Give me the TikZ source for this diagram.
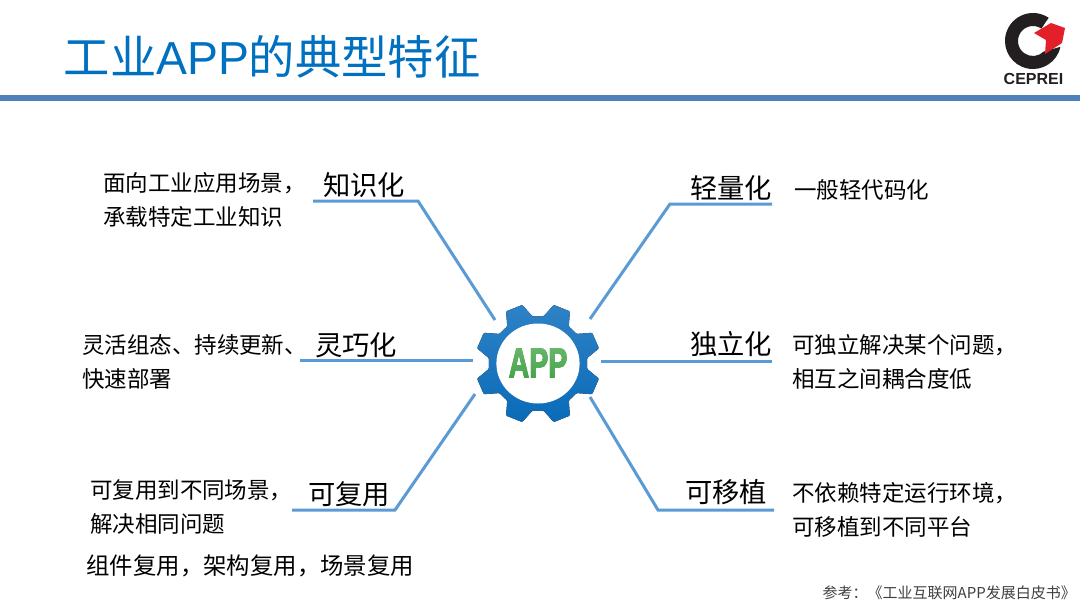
\documentclass[tikz,border=0pt]{standalone}
\usepackage{fontspec}
\setmainfont{Noto Sans CJK SC}
\newfontfamily\latinreg{Liberation Sans}
\newfontfamily\latinbold[Scale=1]{Liberation Sans}
\newfontfamily\appfont[FakeBold=2.2]{Liberation Sans Bold}
\usetikzlibrary{calc,fadings}
\definecolor{titleblue}{HTML}{0070C0}
\definecolor{barblue}{HTML}{4F81BD}
\definecolor{linkblue}{HTML}{5B9BD5}
\definecolor{gearTop}{HTML}{2E82C6}
\definecolor{gearBot}{HTML}{0A6BB8}
\definecolor{appgreen}{HTML}{3F9F45}
\definecolor{appgreenTop}{HTML}{6DBB70}
\definecolor{logored}{HTML}{E3202A}
\definecolor{logoblack}{HTML}{231F20}
\tikzset{
 x=1pt,y=-1pt,
 head/.style={inner sep=0,outer sep=0,anchor=center,font=\fontsize{27.3}{27}\selectfont,text=black},
 desc/.style={inner sep=0,outer sep=0,anchor=west,align=left,font=\fontsize{22.5}{34}\selectfont,text=black},
 link/.style={draw=linkblue,line width=3pt,line join=miter},
}
\newcommand{\apptext}{\appfont\fontsize{42}{42}\selectfont\scalebox{0.68}[1]{APP}}
\begin{tikzfadingfrompicture}[name=appfade]
\node[inner sep=0,text=transparent!0] at (0,0) {\apptext};
\end{tikzfadingfrompicture}
\begin{document}
\begin{tikzpicture}
\useasboundingbox (0,0) rectangle (1080,608);
\fill[white] (0,0) rectangle (1080,608);
% title and bar
\node[inner sep=0,anchor=west,text=titleblue,font=\fontsize{46.3}{46}\selectfont] (title) at (63.5,57) {工业{\latinreg APP}的典型特征};
\fill[barblue] (0,94.5) rectangle (1080,100.5);
% logo
\fill[logoblack] (1033,41) ++(12:28) arc[start angle=12,end angle=304,radius=28] -- ($(1033,41)+(304:15)$) arc[start angle=304,end angle=45,radius=15] -- cycle;
\fill[logored] (1034,33) -- (1051,23) -- (1065,28) -- (1062,43) -- (1045,54) -- (1046,40) -- cycle;
\node[inner sep=0,text=logoblack,font=\latinbold\bfseries\fontsize{16}{16}\selectfont] (logotext) at (1033.5,79) {CEPREI};
% gear
\begin{scope}[shift={(538,363.5)},xscale=1.04]
\def\gr{47.5}\def\gt{60.5}
\fill[top color=gearTop,bottom color=gearBot,rounded corners=1pt]
 (6.5:\gr)
 \foreach \a in {22.5,67.5,...,337.5} {
   -- (\a-16:\gr) -- (\a-8:\gt) -- (\a+8:\gt) -- (\a+16:\gr)
 } -- cycle;
\fill[white] (0,0) circle[radius=40];
\end{scope}
\node[inner sep=0,text=appgreen] (app) at (538,363) {\apptext};
\shade[path fading=appfade,fit fading=false,fading transform={shift={(app.center)}},top color=appgreenTop,bottom color=appgreen] ($(app.center)+(-40,-22)$) rectangle ($(app.center)+(40,22)$);
% headers
\node[head] (zhi) at (364,185) {知识化};
\node[head] (qing) at (731,188) {轻量化};
\node[head] (ling) at (356,345) {灵巧化};
\node[head] (du) at (731,344) {独立化};
\node[head] (fu) at (349,494) {可复用};
\node[head] (yi) at (726,492) {可移植};
% descriptions
\node[desc] (d1) at (103,200) {面向工业应用场景，\\承载特定工业知识};
\node[desc] (d2) at (794,190) {一般轻代码化};
\node[desc] (d3) at (82,362) {灵活组态、持续更新、\\快速部署};
\node[desc] (d4) at (792,362) {可独立解决某个问题，\\相互之间耦合度低};
\node[desc] (d5) at (90,507) {可复用到不同场景，\\解决相同问题};
\node[desc] (d6) at (792,510) {不依赖特定运行环境，\\可移植到不同平台};
\node[desc,font=\fontsize{23.4}{30}\selectfont] (d7) at (86.5,566) {组件复用，架构复用，场景复用};
\node[inner sep=0,anchor=east,text=black!75,font=\fontsize{15}{15}\selectfont] (ref) at (1076,593) {参考：《工业互联网APP发展白皮书》};
% connectors
\coordinate (a1) at (313,201); \coordinate (a2) at (418,201); \coordinate (a3) at (495,320);
\coordinate (b1) at (772,204); \coordinate (b2) at (670,204); \coordinate (b3) at (590,319);
\coordinate (c1) at (300,360); \coordinate (c3) at (473,360);
\coordinate (e1) at (772,361); \coordinate (e3) at (601,361);
\coordinate (f1) at (292,510); \coordinate (f2) at (395,510); \coordinate (f3) at (475,394);
\coordinate (g1) at (774,510); \coordinate (g2) at (658,510); \coordinate (g3) at (590,397);
\draw[link] (a1) -- (a2) -- (a3);
\draw[link] (b1) -- (b2) -- (b3);
\draw[link] (c1) -- (c3);
\draw[link] (e1) -- (e3);
\draw[link] (f1) -- (f2) -- (f3);
\draw[link] (g1) -- (g2) -- (g3);
\end{tikzpicture}
\end{document}
